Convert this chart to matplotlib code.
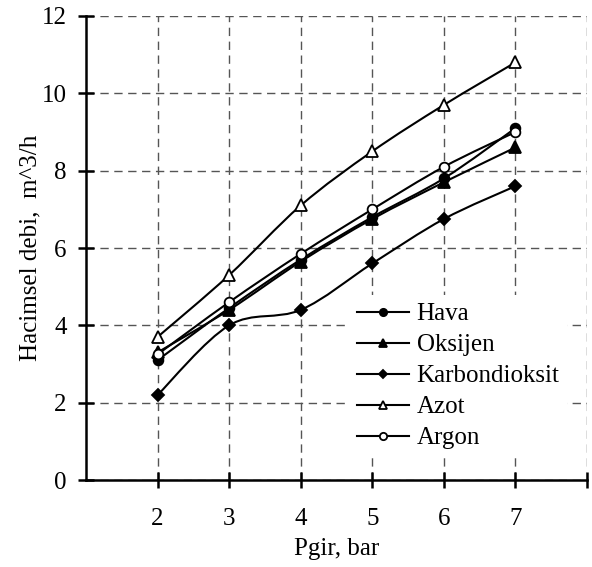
import numpy as np
import matplotlib
matplotlib.use("Agg")
import matplotlib.pyplot as plt
from matplotlib.path import Path
from matplotlib.patches import PathPatch
from matplotlib.lines import Line2D

plt.rcParams['font.family'] = ['Liberation Serif', 'DejaVu Serif']

pressure = [2, 3, 4, 5, 6, 7]
hava = [3.1, 4.45, 5.7, 6.8, 7.8, 9.1]
oksijen = [3.3, 4.4, 5.65, 6.75, 7.7, 8.6]
karbondioksit = [2.2, 4.0, 4.4, 5.6, 6.75, 7.6]
azot = [3.7, 5.3, 7.1, 8.5, 9.7, 10.8]
argon = [3.25, 4.6, 5.85, 7.0, 8.1, 9.0]

series = [
    ("Hava", hava, dict(marker='o', mfc='black', ms=7)),
    ("Oksijen", oksijen, dict(marker='^', mfc='black', ms=8)),
    ("Karbondioksit", karbondioksit, dict(marker='D', mfc='black', ms=6)),
    ("Azot", azot, dict(marker='^', mfc='white', ms=8)),
    ("Argon", argon, dict(marker='o', mfc='white', ms=7)),
]


def smooth_path(x, y, t=0.5 / 3):
    x = np.asarray(x, float)
    y = np.asarray(y, float)
    verts = [(x[0], y[0])]
    codes = [Path.MOVETO]
    n = len(x)
    for i in range(n - 1):
        p0 = np.array([x[max(i - 1, 0)], y[max(i - 1, 0)]])
        p1 = np.array([x[i], y[i]])
        p2 = np.array([x[i + 1], y[i + 1]])
        p3 = np.array([x[min(i + 2, n - 1)], y[min(i + 2, n - 1)]])
        c1 = p1 + (p2 - p0) * t
        c2 = p2 - (p3 - p1) * t
        verts += [tuple(c1), tuple(c2), tuple(p2)]
        codes += [Path.CURVE4] * 3
    return Path(verts, codes)


fig = plt.figure(figsize=(5.92, 5.67), dpi=100)
ax = fig.add_axes([0.1453, 0.1534, 0.8463, 0.8184])

handles = []
for name, vals, st in series:
    ax.add_patch(PathPatch(smooth_path(pressure, vals), fill=False,
                           edgecolor='black', lw=1.5, zorder=3))
    ax.plot(pressure, vals, linestyle='none', marker=st['marker'],
            mfc=st['mfc'], mec='black', mew=1.3, ms=st['ms'], zorder=4)
    handles.append(Line2D([], [], color='black', lw=1.5, marker=st['marker'],
                          mfc=st['mfc'], mec='black', mew=1.3,
                          ms=st['ms'] * 0.75, label=name))

ax.set_xlim(1, 8)
ax.set_ylim(0, 12)
ax.set_xticks([2, 3, 4, 5, 6, 7, 8])
ax.set_xticklabels(['2', '3', '4', '5', '6', '7', ''])
ax.set_yticks([0, 2, 4, 6, 8, 10, 12])
ax.grid(True, color='#555555', linestyle=(0, (6, 4)), lw=1.0)
ax.set_axisbelow(True)
for s in ['top', 'right']:
    ax.spines[s].set_visible(False)
for s in ['left', 'bottom']:
    ax.spines[s].set_linewidth(1.8)
ax.tick_params(direction='inout', length=12, width=1.8, labelsize=18)
ax.tick_params(axis='x', pad=14)
ax.tick_params(axis='y', pad=8)
ax.set_xlabel('Pgir, bar', fontsize=18, labelpad=6)
ax.set_ylabel('Hacimsel debi,  m^3/h', fontsize=18, labelpad=0)

leg = ax.legend(handles=handles, loc='upper left', bbox_to_anchor=(0.525, 0.398),
                frameon=True, fontsize=18, handlelength=2.1, handletextpad=0.3,
                labelspacing=0.34, borderpad=0.3, borderaxespad=0)
leg.get_frame().set_edgecolor('none')
leg.get_frame().set_facecolor('white')
leg.get_frame().set_alpha(1)

fig.savefig('out.png', dpi=100)
